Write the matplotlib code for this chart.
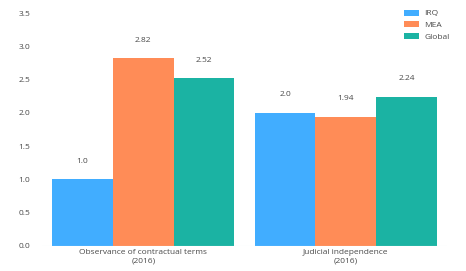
import matplotlib
matplotlib.use("Agg")
import matplotlib.pyplot as plt
import numpy as np

categories = ["Observance of contractual terms\n(2016)", "Judicial independence\n(2016)"]
series = ["IRQ", "MEA", "Global"]
values = {
    "IRQ": [1.0, 2.0],
    "MEA": [2.82, 1.94],
    "Global": [2.52, 2.24],
}
labels = {
    "IRQ": ["1.0", "2.0"],
    "MEA": ["2.82", "1.94"],
    "Global": ["2.52", "2.24"],
}
colors = {"IRQ": "#41adff", "MEA": "#ff8c57", "Global": "#1bb3a3"}

plt.rcParams['font.family'] = ['Open Sans', 'DejaVu Sans']
fig = plt.figure(figsize=(4.66, 2.71), dpi=100)
ax = fig.add_axes([42/466, 25/271, 405/466, 233/271])

x = np.arange(len(categories))
w = 0.3
txtc = "#4a4a4a"
fs = 6.0
for i, s in enumerate(series):
    pos = x + (i - 1) * w
    ax.bar(pos, values[s], width=w, color=colors[s], label=s, linewidth=0)
    for px, v, lab in zip(pos, values[s], labels[s]):
        ax.annotate(lab, (px, v), xytext=(0, 10.5), textcoords="offset points",
                    ha="center", va="bottom", fontsize=fs, color=txtc)

ax.set_xlim(-0.5, 1.5)
ax.set_ylim(0, 3.5)
ax.set_yticks(np.arange(0, 3.51, 0.5))
ax.set_yticklabels([f"{t:.1f}" for t in np.arange(0, 3.51, 0.5)])
ax.set_xticks(x)
ax.set_xticklabels(categories)
for sp in ax.spines.values():
    sp.set_visible(False)
ax.tick_params(axis="both", length=0, labelsize=fs, labelcolor=txtc)
ax.tick_params(axis="y", pad=8.5)
ax.tick_params(axis="x", pad=2.5)
ax.axhline(0, color="#e8eef0", linewidth=0.8)

leg = fig.legend(loc="upper left", bbox_to_anchor=(396/466, 1 - 2/271), frameon=False,
                 fontsize=fs, handlelength=1.85, handleheight=0.75, labelspacing=0.45,
                 handletextpad=0.65)
for t in leg.get_texts():
    t.set_color(txtc)

fig.savefig("out.png", dpi=100)
